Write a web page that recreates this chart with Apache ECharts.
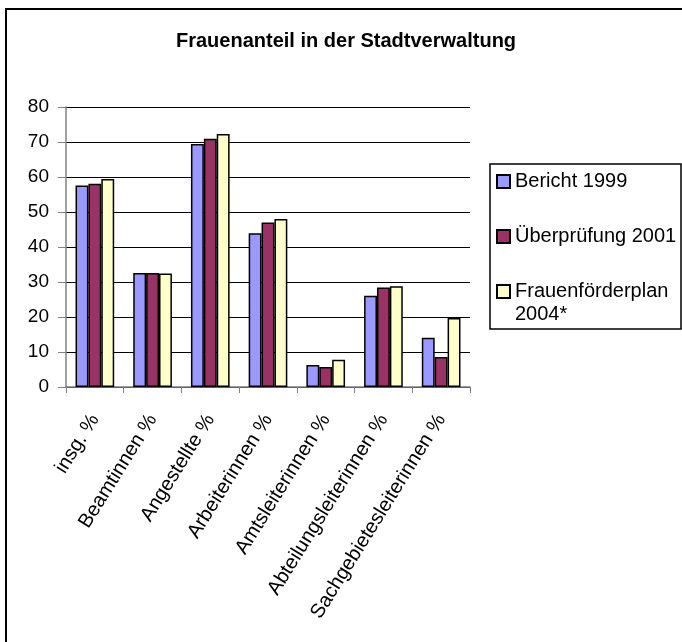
<!DOCTYPE html>
<html>
<head>
<meta charset="utf-8">
<script src="https://cdn.jsdelivr.net/npm/echarts@6/dist/echarts.min.js"></script>
<style>
html,body{margin:0;padding:0;background:#fff;}
#chart{width:682px;height:642px;}
</style>
</head>
<body>
<div id="chart"></div>
<script>
// Kategorien und Werte
var categories = ['insg. %', 'Beamtinnen %', 'Angestellte %', 'Arbeiterinnen %',
    'Amtsleiterinnen %', 'Abteilungsleiterinnen %', 'Sachgebietesleiterinnen %'];
var bericht1999 = [57.6, 32.6, 69.4, 43.9, 6.3, 26.1, 14.1];
var pruefung2001 = [58.1, 32.6, 70.9, 47.0, 5.7, 28.4, 8.6];
var plan2004 = [59.4, 32.4, 72.3, 48.0, 7.8, 28.8, 19.7];
var seriesNames = ['Bericht 1999', 'Überprüfung 2001', 'Frauenförderplan 2004*'];
var yTicks = [0, 80, 10];

var font = '"Liberation Sans", Arial, sans-serif';
var colors = ['#9999FF', '#993366', '#FFFFCC'];

var chart = echarts.init(document.getElementById('chart'));

var makeSeries = function(name, data, i){
    return {
        name: name,
        type: 'bar',
        data: data,
        barGap: '0%',
        barCategoryGap: '33%',
        itemStyle: {color: colors[i], borderColor: '#000', borderWidth: 1.5},
        emphasis: {disabled: true}
    };
}

var legendText = {fontFamily: font, fontSize: 20, color: '#000', lineHeight: 23};
var makeLegend = function(name, top, fmt){
    return {
        data: [name],
        left: 496,
        top: top,
        padding: 0,
        itemWidth: 13,
        itemHeight: 13,
        itemGap: 5,
        icon: 'rect',
        selectedMode: false,
        textStyle: legendText,
        formatter: fmt || '{name}'
    };
}

var option = {
    backgroundColor: '#fff',
    animation: false,
    title: {
        text: 'Frauenanteil in der Stadtverwaltung',
        left: 176,
        top: 31,
        padding: 0,
        textStyle: {fontFamily: font, fontSize: 20, fontWeight: 'bold', color: '#000'}
    },
    legend: [
        makeLegend(seriesNames[0], 170),
        makeLegend(seriesNames[1], 225),
        makeLegend(seriesNames[2], 257, function(){ return '\nFrauenförderplan\n2004*'; })
    ],
    grid: {left: 66, right: 212, top: 107, bottom: 255, containLabel: false},
    xAxis: {
        type: 'category',
        data: categories,
        axisLine: {lineStyle: {color: '#808080', width: 1.5}},
        axisTick: {show: true, length: 6, lineStyle: {color: '#808080'}},
        axisLabel: {
            interval: 0, rotate: 58, margin: 29,
            fontFamily: font, fontSize: 20, color: '#000'
        }
    },
    yAxis: {
        type: 'value',
        min: yTicks[0],
        max: yTicks[1],
        interval: yTicks[2],
        axisLine: {show: true, lineStyle: {color: '#808080', width: 1.5}},
        axisTick: {show: true, length: 8, lineStyle: {color: '#808080'}},
        axisLabel: {margin: 17, fontFamily: font, fontSize: 19, color: '#000'},
        splitLine: {lineStyle: {color: '#000', width: 1}}
    },
    graphic: [
        {type: 'rect', shape: {x: 6, y: 9, width: 720, height: 700},
            style: {fill: null, stroke: '#000', lineWidth: 2}, silent: true, z: 100},
        {type: 'rect', shape: {x: 490, y: 164, width: 191, height: 165},
            style: {fill: null, stroke: '#000', lineWidth: 1.5}, silent: true, z: 100}
    ],
    series: [
        makeSeries(seriesNames[0], bericht1999, 0),
        makeSeries(seriesNames[1], pruefung2001, 1),
        makeSeries(seriesNames[2], plan2004, 2)
    ]
};

chart.setOption(option);
</script>
</body>
</html>
